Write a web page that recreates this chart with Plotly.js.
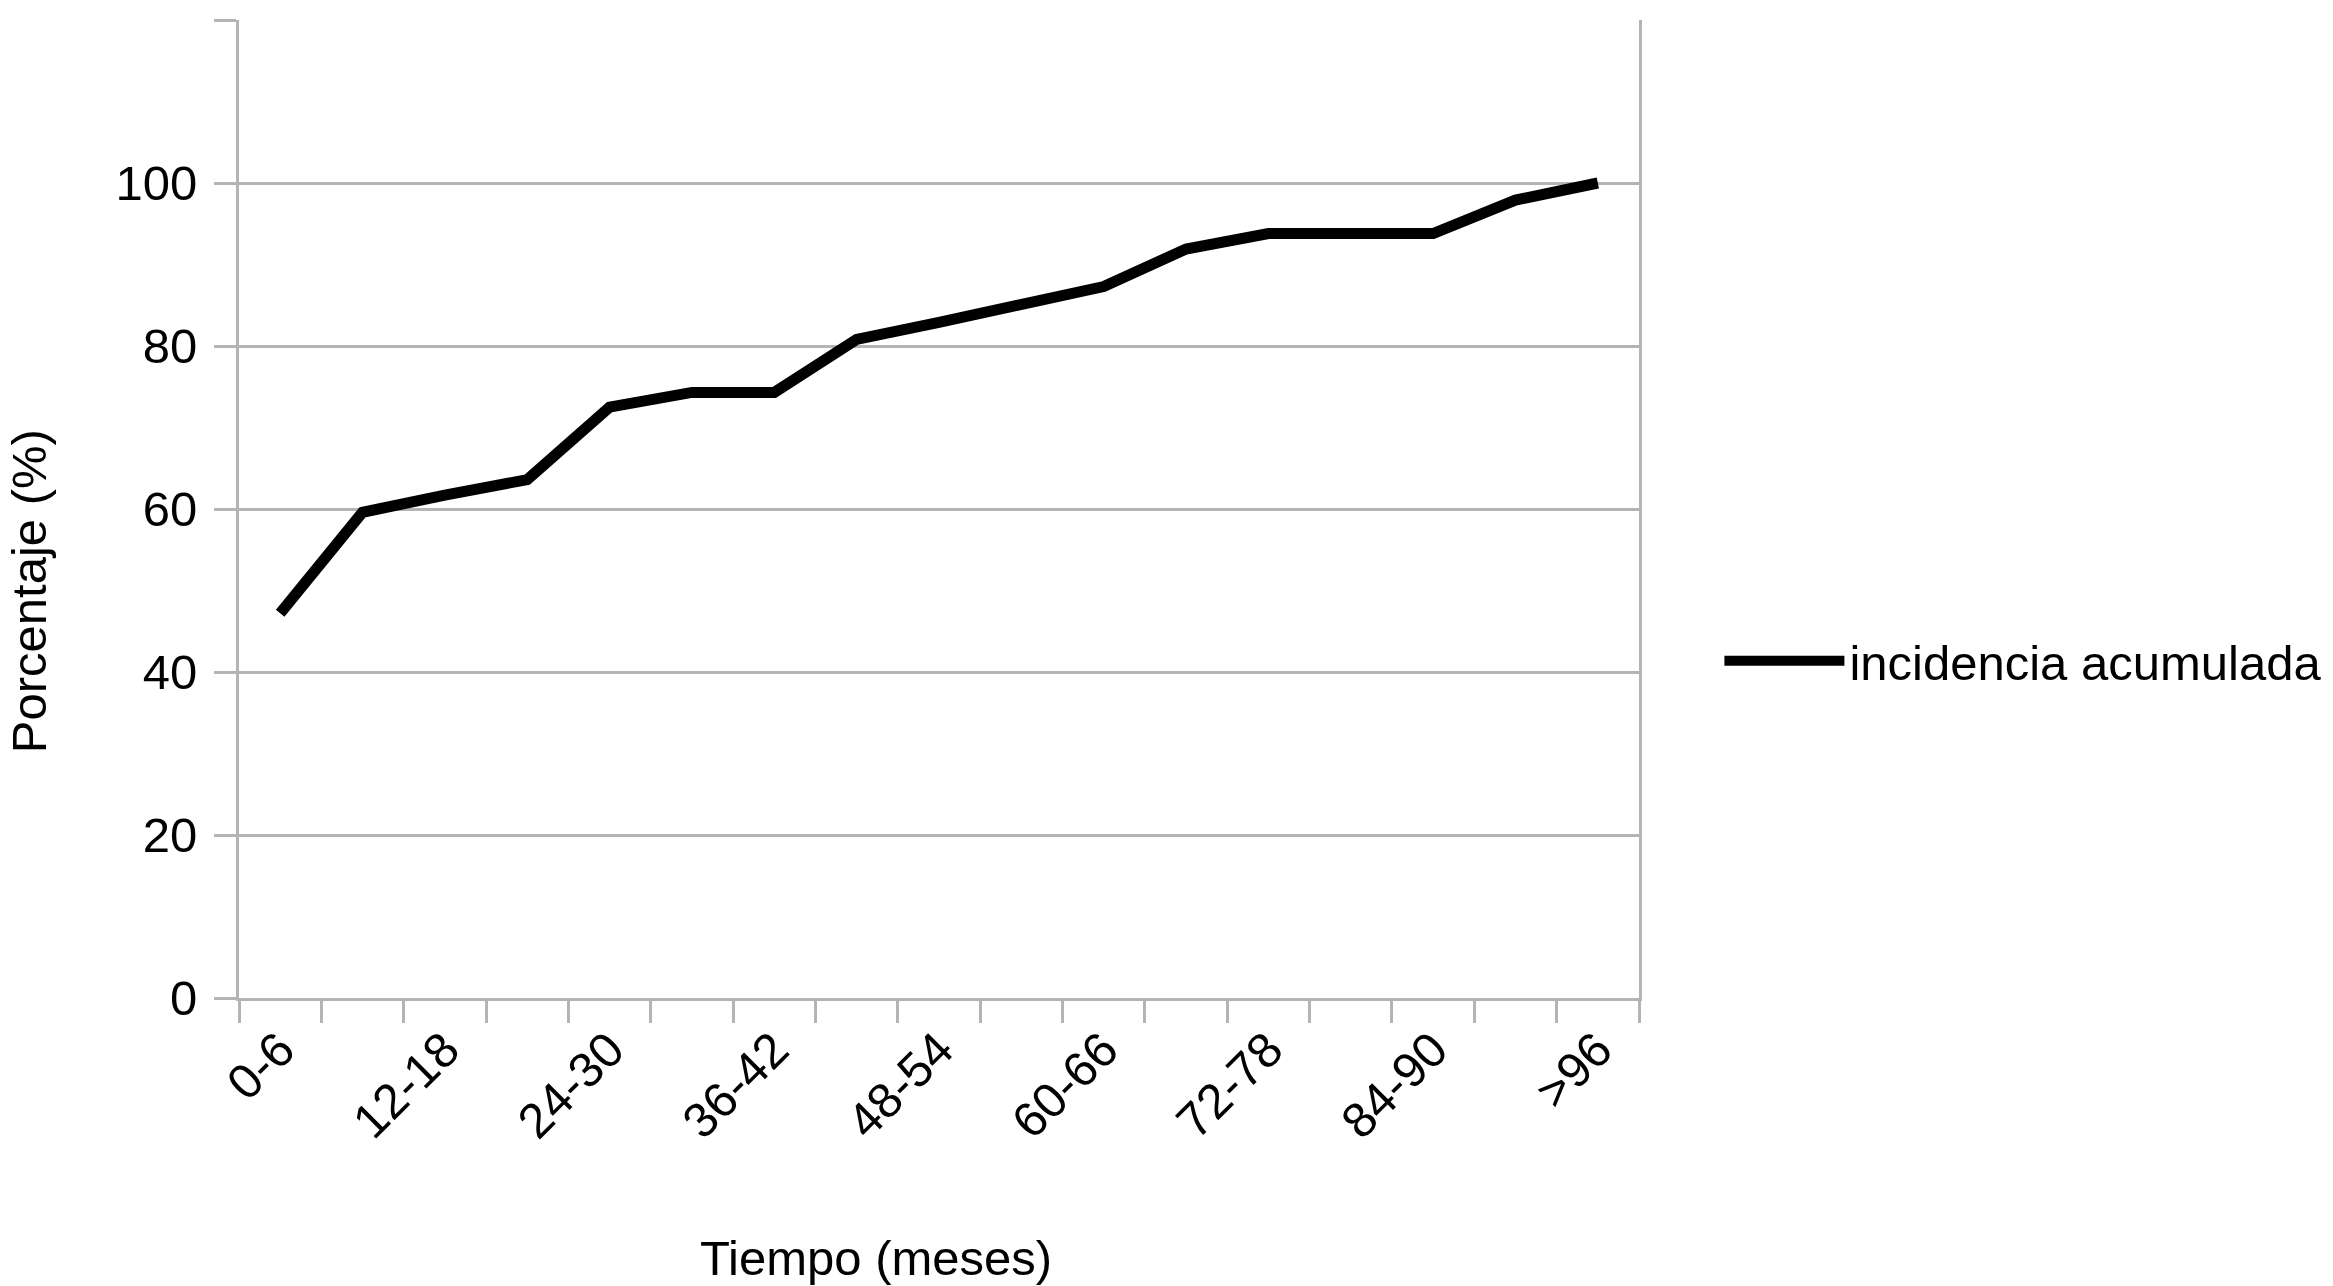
<!DOCTYPE html>
<html>
<head>
<meta charset="utf-8">
<script src="https://cdn.plot.ly/plotly-3.0.1.min.js"></script>
<style>html,body{margin:0;padding:0;background:#fff;}#chart{width:2333px;height:1286px;}</style>
</head>
<body>
<div id="chart"></div>
<script>
// Categories (time intervals, months)
const categories = ["0-6","6-12","12-18","18-24","24-30","30-36","36-42","42-48","48-54","54-60","60-66","66-72","72-78","78-84","84-90","90-96",">96"];
// Cumulative incidence (%)
const incidencia = [47.2, 59.6, 61.7, 63.6, 72.5, 74.3, 74.3, 80.8, 82.9, 85.2, 87.3, 91.9, 93.8, 93.8, 93.8, 97.9, 100];
// Tick labels shown on the x axis (every other category)
const xTickLabels = ["0-6","","12-18","","24-30","","36-42","","48-54","","60-66","","72-78","","84-90","",">96"];
// Y axis ticks
const yTickVals = [0, 20, 40, 60, 80, 100, 120];
const yTickText = ["0", "20", "40", "60", "80", "100", ""];

const seriesName = "incidencia acumulada";
const xTitle = "Tiempo (meses)";
const yTitle = "Porcentaje (%)";

const font = "Liberation Sans, Arial, sans-serif";
const gridColor = "#b4b4b4";
const titleFont = {family: font, size: 49, color: "#000000"};

const trace = {
  x: categories,
  y: incidencia,
  type: "scatter",
  mode: "lines",
  name: seriesName,
  line: {color: "#000000", width: 11, shape: "linear"},
  showlegend: true
};

const layout = {
  width: 2333,
  height: 1286,
  paper_bgcolor: "#ffffff",
  plot_bgcolor: "#ffffff",
  font: {family: font, size: 49, color: "#000000"},
  margin: {l: 239, r: 694, t: 20, b: 288, pad: 0, autoexpand: false},
  showlegend: true,
  legend: {
    xref: "container", yref: "container",
    x: 0.737, xanchor: "left",
    y: 0.486, yanchor: "middle",
    itemwidth: 120,
    font: {family: font, size: 49, color: "#000000"},
    bgcolor: "rgba(0,0,0,0)",
    borderwidth: 0
  },
  xaxis: {
    type: "category",
    categoryorder: "array",
    categoryarray: categories,
    range: [-0.5, categories.length - 0.5],
    tickmode: "array",
    tickvals: categories,
    ticktext: xTickLabels,
    tickson: "boundaries",
    ticks: "outside",
    ticklen: 22,
    tickwidth: 3,
    tickcolor: gridColor,
    tickangle: -45,
    tickfont: {family: font, size: 49, color: "#000000"},
    showline: true,
    linecolor: gridColor,
    linewidth: 3,
    showgrid: false,
    zeroline: false,
    automargin: false
  },
  yaxis: {
    range: [0, 120],
    tickmode: "array",
    tickvals: yTickVals,
    ticktext: yTickText,
    ticks: "outside",
    ticklen: 22,
    tickwidth: 3,
    tickcolor: gridColor,
    ticklabelstandoff: 7,
    tickfont: {family: font, size: 49, color: "#000000"},
    showline: true,
    mirror: true,
    linecolor: gridColor,
    linewidth: 3,
    showgrid: true,
    gridcolor: gridColor,
    gridwidth: 3,
    zeroline: false,
    automargin: false
  },
  annotations: [
    {text: xTitle, xref: "paper", yref: "paper", x: 0.455, y: -0.266,
     xanchor: "center", yanchor: "middle", showarrow: false, font: titleFont},
    {text: yTitle, xref: "paper", yref: "paper", x: -0.150, y: 0.416,
     xanchor: "center", yanchor: "middle", textangle: -90, showarrow: false, font: titleFont}
  ]
};

Plotly.newPlot("chart", [trace], layout, {staticPlot: true, displayModeBar: false});
</script>
</body>
</html>
